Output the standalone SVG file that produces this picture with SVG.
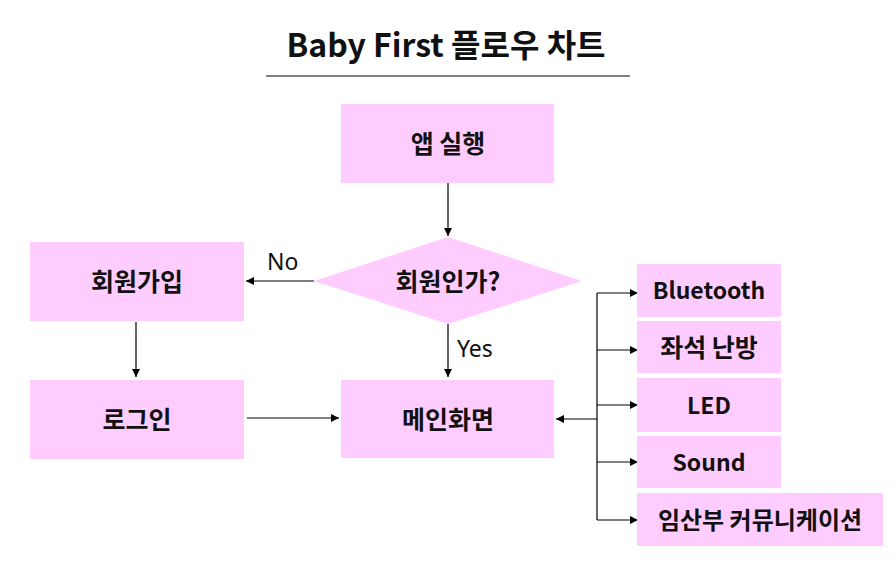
<svg xmlns="http://www.w3.org/2000/svg" width="896" height="578" viewBox="0 0 896 578">
<style>
.box{fill:#FFCCFF;stroke:none}
.lbl{font-family:"Noto Sans CJK KR","Noto Sans",sans-serif;font-weight:bold;font-size:25px;fill:#111;text-anchor:middle;dominant-baseline:central}
.lat{font-size:23px}
.edge{stroke:#000;stroke-width:1.2;fill:none}
.elbl{font-family:"Noto Sans","Noto Sans CJK KR",sans-serif;font-size:23px;fill:#111}
.title{font-family:"Noto Sans CJK KR","Noto Sans",sans-serif;font-weight:bold;font-size:32px;fill:#111;text-anchor:middle}
</style>
<defs>
<marker id="arr" markerWidth="10" markerHeight="10" refX="8" refY="4" orient="auto" markerUnits="userSpaceOnUse">
<path d="M0,0 L8,4 L0,8 Z" fill="#000"/>
</marker>
</defs>
<rect width="896" height="578" fill="#fff"/>
<g id="title">
<text class="title" x="446" y="57">Baby First 플로우 차트</text>
<line x1="266" y1="76" x2="630" y2="76" stroke="#000" stroke-width="1.2"/>
</g>
<g id="connectors">
<line class="edge" x1="448" y1="183" x2="448" y2="236" marker-end="url(#arr)"/>
<line class="edge" x1="314" y1="281" x2="246" y2="281" marker-end="url(#arr)"/>
<line class="edge" x1="448" y1="324" x2="448" y2="377" marker-end="url(#arr)"/>
<line class="edge" x1="136" y1="322" x2="136" y2="377" marker-end="url(#arr)"/>
<line class="edge" x1="247" y1="418" x2="339" y2="418" marker-end="url(#arr)"/>
<line class="edge" x1="597" y1="419" x2="556" y2="419" marker-end="url(#arr)"/>
<line class="edge" x1="597" y1="293" x2="597" y2="520"/>
<line class="edge" x1="597" y1="293" x2="638" y2="293" marker-end="url(#arr)"/>
<line class="edge" x1="597" y1="350" x2="638" y2="350" marker-end="url(#arr)"/>
<line class="edge" x1="597" y1="405" x2="638" y2="405" marker-end="url(#arr)"/>
<line class="edge" x1="597" y1="462" x2="638" y2="462" marker-end="url(#arr)"/>
<line class="edge" x1="597" y1="520" x2="638" y2="520" marker-end="url(#arr)"/>
<text class="elbl" x="267" y="270">No</text>
<text class="elbl" x="457" y="357">Yes</text>
</g>
<g id="n_app"><rect class="box" x="341" y="104" width="213" height="79"/><text class="lbl" x="448" y="142">앱 실행</text></g>
<g id="n_member"><polygon class="box" points="448,237 582,281 448,324 314,281"/><text class="lbl" x="448" y="280">회원인가?</text></g>
<g id="n_signup"><rect class="box" x="30" y="242" width="214" height="79"/><text class="lbl" x="137" y="280">회원가입</text></g>
<g id="n_login"><rect class="box" x="30" y="380" width="214" height="79"/><text class="lbl" x="137" y="418">로그인</text></g>
<g id="n_main"><rect class="box" x="341" y="380" width="213" height="78"/><text class="lbl" x="448" y="418">메인화면</text></g>
<g id="n_bt"><rect class="box" x="637" y="264" width="144" height="53"/><text class="lbl lat" x="709" y="289">Bluetooth</text></g>
<g id="n_seat"><rect class="box" x="637" y="321" width="144" height="52"/><text class="lbl" x="709" y="346">좌석 난방</text></g>
<g id="n_led"><rect class="box" x="637" y="378" width="144" height="54"/><text class="lbl lat" x="709" y="404">LED</text></g>
<g id="n_sound"><rect class="box" x="637" y="436" width="144" height="52"/><text class="lbl lat" x="709" y="461">Sound</text></g>
<g id="n_preg"><rect class="box" x="637" y="493" width="246" height="53"/><text class="lbl" x="760" y="518" style="font-size:24px">임산부 커뮤니케이션</text></g>
</svg>
